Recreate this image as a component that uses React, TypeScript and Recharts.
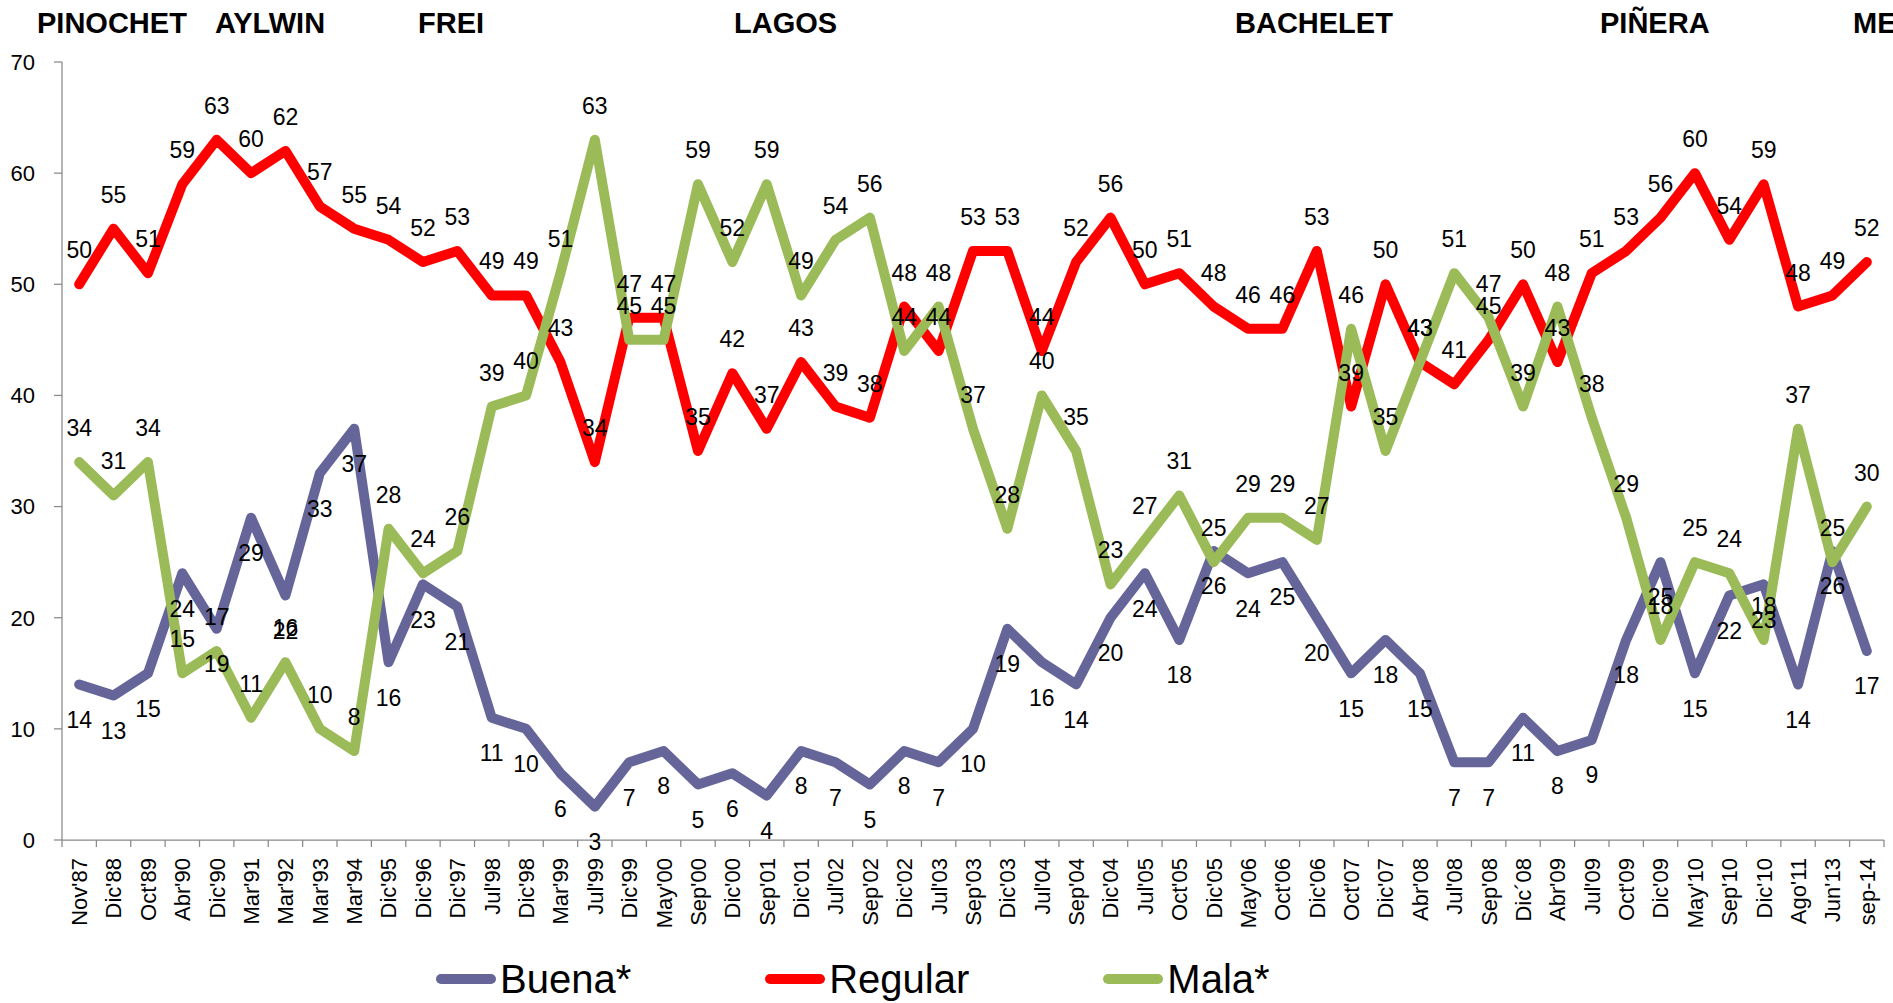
import { LineChart, Line, XAxis, YAxis, Legend, LabelList } from "recharts";

const categories = [
  "Nov'87", "Dic'88", "Oct'89", "Abr'90", "Dic'90", "Mar'91", "Mar'92", "Mar'93", "Mar'94",
  "Dic'95", "Dic'96", "Dic'97", "Jul'98", "Dic'98", "Mar'99", "Jul'99", "Dic'99", "May'00",
  "Sep'00", "Dic'00", "Sep'01", "Dic'01", "Jul'02", "Sep'02", "Dic'02", "Jul'03", "Sep'03",
  "Dic'03", "Jul'04", "Sep'04", "Dic'04", "Jul'05", "Oct'05", "Dic'05", "May'06", "Oct'06",
  "Dic'06", "Oct'07", "Dic'07", "Abr'08", "Jul'08", "Sep'08", "Dic´08", "Abr'09", "Jul'09",
  "Oct'09", "Dic'09", "May'10", "Sep'10", "Dic'10", "Ago'11", "Jun'13", "sep-14",
];

const buena = [
  14, 13, 15, 24, 19, 29, 22, 33, 37,
  16, 23, 21, 11, 10, 6, 3, 7, 8,
  5, 6, 4, 8, 7, 5, 8, 7, 10,
  19, 16, 14, 20, 24, 18, 26, 24, 25,
  20, 15, 18, 15, 7, 7, 11, 8, 9,
  18, 25, 15, 22, 23, 14, 26, 17,
];

const regular = [
  50, 55, 51, 59, 63, 60, 62, 57, 55,
  54, 52, 53, 49, 49, 43, 34, 47, 47,
  35, 42, 37, 43, 39, 38, 48, 44, 53,
  53, 44, 52, 56, 50, 51, 48, 46, 46,
  53, 39, 50, 43, 41, 45, 50, 43, 51,
  53, 56, 60, 54, 59, 48, 49, 52,
];

const mala = [
  34, 31, 34, 15, 17, 11, 16, 10, 8,
  28, 24, 26, 39, 40, 51, 63, 45, 45,
  59, 52, 59, 49, 54, 56, 44, 48, 37,
  28, 40, 35, 23, 27, 31, 25, 29, 29,
  27, 46, 35, 43, 51, 47, 39, 48, 38,
  29, 18, 25, 24, 18, 37, 25, 30,
];

const yTicks = [0, 10, 20, 30, 40, 50, 60, 70];

const seriesNames = ["Buena*", "Regular", "Mala*"];

const presidents = ["PINOCHET", "AYLWIN", "FREI", "LAGOS", "BACHELET", "PIÑERA", "ME"];
const presidentX = [37, 215, 418, 734, 1235, 1600, 1853];

const W = 1893;
const H = 1003;
const MARGIN = { top: 62, right: 9, left: 0, bottom: 43 };
const Y_AXIS_W = 62;
const X_AXIS_H = 120;
const PLOT_W = W - MARGIN.left - MARGIN.right - Y_AXIS_W;
const STEP = PLOT_W / categories.length;
const AXIS_GRAY = "#898989";
const FONT = "'Liberation Sans', Arial, sans-serif";
const LINE_W = 10;

const data = categories.map((name, i) => ({
  name,
  buena: buena[i],
  regular: regular[i],
  mala: mala[i],
}));

function CategoryTick(props: any) {
  const { x, y, payload, index } = props;
  const half = STEP / 2;
  const axisY = y - 18;
  const last = index === categories.length - 1;
  return (
    <g>
      <line x1={x - half} x2={x - half} y1={axisY} y2={axisY + 7} stroke={AXIS_GRAY} strokeWidth={1.25} />
      {last && (
        <line x1={x + half} x2={x + half} y1={axisY} y2={axisY + 7} stroke={AXIS_GRAY} strokeWidth={1.25} />
      )}
      <text
        x={x}
        y={y}
        transform={`rotate(-90 ${x} ${y})`}
        textAnchor="end"
        dy="0.36em"
        fontSize={22}
        fill="#000"
      >
        {payload.value}
      </text>
    </g>
  );
}

function LegendContent(props: any) {
  const items = [...(props.payload || [])].sort(
    (a: any, b: any) => seriesNames.indexOf(a.value) - seriesNames.indexOf(b.value)
  );
  return (
    <div style={{ display: "flex", alignItems: "center", gap: 133, height: 40 }}>
      {items.map((it: any) => (
        <div key={it.value} style={{ display: "flex", alignItems: "center" }}>
          <svg width={62} height={12} style={{ marginRight: 3 }}>
            <line x1={6} y1={6} x2={56} y2={6} stroke={it.color} strokeWidth={10} strokeLinecap="round" />
          </svg>
          <span style={{ fontSize: 40, lineHeight: "40px", color: "#000" }}>{it.value}</span>
        </div>
      ))}
    </div>
  );
}

const labelProps = { fontSize: 23, fill: "#000" };

export default function App() {
  return (
    <div
      style={{
        position: "absolute",
        left: 0,
        top: 0,
        width: W,
        height: H,
        overflow: "hidden",
        background: "#fff",
        fontFamily: FONT,
      }}
    >
      <LineChart width={W} height={H} data={data} margin={MARGIN}>
        <XAxis
          dataKey="name"
          interval={0}
          height={X_AXIS_H}
          padding={{ left: STEP / 2, right: STEP / 2 }}
          tickSize={0}
          tickMargin={18}
          tickLine={false}
          axisLine={{ stroke: AXIS_GRAY, strokeWidth: 1.25 }}
          tick={<CategoryTick />}
        />
        <YAxis
          domain={[0, 70]}
          ticks={yTicks}
          interval={0}
          width={Y_AXIS_W}
          tickSize={8}
          tickMargin={19}
          axisLine={{ stroke: AXIS_GRAY, strokeWidth: 1.25 }}
          tickLine={{ stroke: AXIS_GRAY, strokeWidth: 1.25 }}
          tick={{ fontSize: 22, fill: "#000" }}
        />
        <Legend
          layout="horizontal"
          verticalAlign="middle"
          align="center"
          wrapperStyle={{ top: 959, left: 435, width: 900, height: 40 }}
          content={<LegendContent />}
        />
        <Line
          type="linear"
          dataKey="buena"
          name="Buena*"
          stroke="#65659A"
          strokeWidth={LINE_W}
          strokeLinejoin="round"
          strokeLinecap="round"
          dot={false}
          activeDot={false}
          isAnimationActive={false}
        >
          <LabelList dataKey="buena" position="bottom" offset={27} {...labelProps} />
        </Line>
        <Line
          type="linear"
          dataKey="regular"
          name="Regular"
          stroke="#FF0000"
          strokeWidth={LINE_W}
          strokeLinejoin="round"
          strokeLinecap="round"
          dot={false}
          activeDot={false}
          isAnimationActive={false}
        >
          <LabelList dataKey="regular" position="top" offset={26} {...labelProps} />
        </Line>
        <Line
          type="linear"
          dataKey="mala"
          name="Mala*"
          stroke="#9BBB59"
          strokeWidth={LINE_W}
          strokeLinejoin="round"
          strokeLinecap="round"
          dot={false}
          activeDot={false}
          isAnimationActive={false}
        >
          <LabelList dataKey="mala" position="top" offset={26} {...labelProps} />
        </Line>
      </LineChart>
      <svg
        width={W}
        height={50}
        style={{ position: "absolute", left: 0, top: 0, pointerEvents: "none" }}
      >
        {presidents.map((p, i) => (
          <text key={p} x={presidentX[i]} y={33} fontSize={29} fontWeight="bold" fill="#000">
            {p}
          </text>
        ))}
      </svg>
    </div>
  );
}
